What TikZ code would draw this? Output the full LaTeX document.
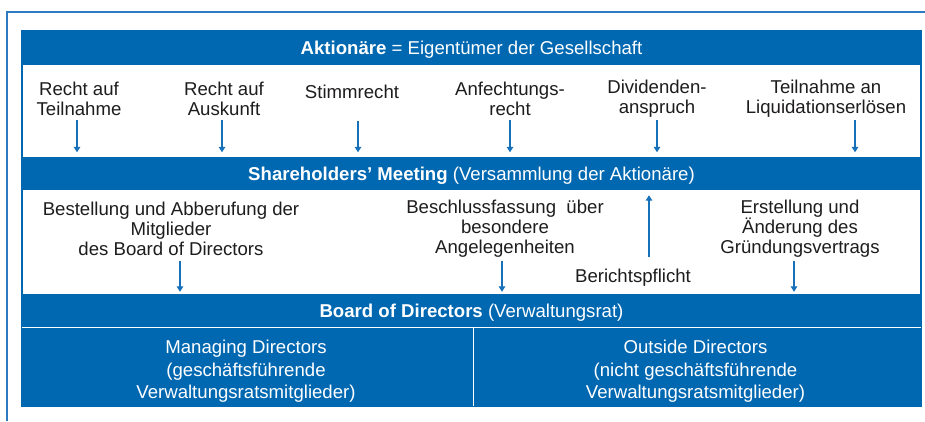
\documentclass[tikz,border=0pt]{standalone}
\usepackage{fontspec}
\setmainfont{Liberation Sans}
\usetikzlibrary{arrows.meta}
\definecolor{corpblue}{RGB}{0,103,177}
\definecolor{arrowblue}{RGB}{22,112,186}
\definecolor{framebl}{RGB}{46,122,192}
\definecolor{ink}{RGB}{30,28,29}
\begin{document}
\begin{tikzpicture}[x=1pt,y=-1pt,
  txt/.style={font=\fontsize{18.6}{20}\selectfont, text=ink, align=center, inner sep=0pt},
  bar/.style={fill=corpblue, text=white, inner sep=0pt, minimum width=899pt,
    text depth=0pt, font=\fontsize{18.6}{20}\selectfont},
  cell/.style={fill=corpblue, inner sep=0pt},
  celltext/.style={text=white, align=center, inner sep=0pt,
    font=\fontsize{18.6}{22.5}\selectfont},
  arr/.style={draw=arrowblue, line width=1.3pt,
    -{Triangle[length=5.5pt,width=6.5pt]}}]
\useasboundingbox (0,0) rectangle (925,421);
% outer frame, open towards the lower right
\draw[framebl, line width=1.6pt] (6.7,421) -- (6.7,11.7) -- (925,11.7);
% main panel
\draw[corpblue, fill=white, line width=1.2pt] (22,31) rectangle (921,406);

% horizontal bars
\node[bar, minimum height=34pt] (akt) at (471.5,48)
  {\textbf{Aktionäre} = Eigentümer der Gesellschaft};
\node[bar, minimum height=33pt] (sm) at (471.5,173.5)
  {\textbf{Shareholders’ Meeting} (Versammlung der Aktionäre)};
\node[bar, minimum height=34pt] (bod) at (471.5,311)
  {\textbf{Board of Directors} (Verwaltungsrat)};

% the two director groups
\node[cell, minimum width=451pt, minimum height=78pt] (md) at (247.5,367) {};
\node[cell, minimum width=448pt, minimum height=78pt] (od) at (697,367) {};
\draw[white, line width=1pt] (md.north west) -- (od.north east);
\draw[white, line width=1.2pt] (md.north east) -- (md.south east);
\node[celltext] (mdt) at (246,371.5)
  {Managing Directors\\(geschäftsführende\\Verwaltungsratsmitglieder)};
\node[celltext] (odt) at (695.5,371.5)
  {Outside Directors\\(nicht geschäftsführende\\Verwaltungsratsmitglieder)};

% shareholder rights
\node[txt] (r1) at (79,99)  {Recht auf\\Teilnahme};
\node[txt] (r2) at (224,99) {Recht auf\\Auskunft};
\node[txt] (r3) at (352,92) {Stimmrecht};
\node[txt] (r4) at (510,99) {Anfechtungs-\\recht};
\node[txt] (r5) at (657,99) {Dividenden-\\anspruch};
\node[txt] (r6) at (826,99) {Teilnahme an\\Liquidationserlösen};

\coordinate (p1) at (77,120);
\coordinate (p2) at (222,120);
\coordinate (p3) at (358,121);
\coordinate (p4) at (510,120);
\coordinate (p5) at (657,120);
\coordinate (p6) at (855,120);
\foreach \p in {p1,p2,p3,p4,p5,p6}
  \draw[arr, shorten >=4.5pt] (\p) -- (\p |- sm.north);

% competences of the meeting
\node[txt] (c1) at (171,229)
  {Bestellung und Abberufung der\\Mitglieder\\des Board of Directors};
\node[txt] (c2) at (505,229)
  {Beschlussfassung~ über\\besondere\\Angelegenheiten};
\node[txt] (c3) at (800,229)
  {Erstellung und\\Änderung des\\Gründungsvertrags};
\node[txt] (rep) at (633,278) {Berichtspflicht};

\coordinate (q1) at (180,261);
\coordinate (q2) at (502,261);
\coordinate (q3) at (794,261);
\foreach \q in {q1,q2,q3}
  \draw[arr, shorten >=2pt] (\q) -- (\q |- bod.north);

\coordinate (up) at (649,257);
\draw[arr, shorten >=5pt] (up) -- (up |- sm.south);
\end{tikzpicture}
\end{document}
